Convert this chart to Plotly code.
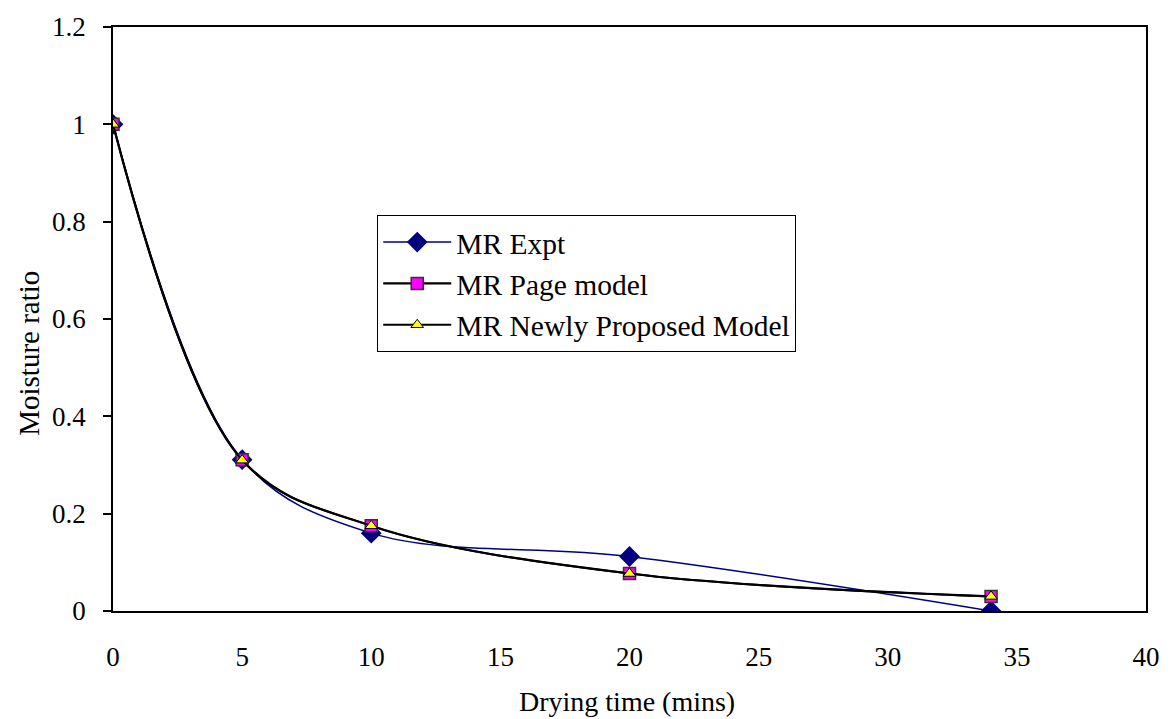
import plotly.graph_objects as go

drying_time = [0, 5, 10, 20, 34]
mr_expt = [1.0, 0.311, 0.160, 0.112, 0.0]
mr_page = [1.0, 0.311, 0.175, 0.077, 0.030]
mr_new = [1.0, 0.310, 0.175, 0.077, 0.030]

y_tickvals = [0, 0.2, 0.4, 0.6, 0.8, 1.0, 1.2]
y_ticktext = ["0", "0.2", "0.4", "0.6", "0.8", "1", "1.2"]
x_tickvals = [0, 5, 10, 15, 20, 25, 30, 35, 40]
x_ticktext = ["0", "5", "10", "15", "20", "25", "30", "35", "40"]

FONT = "Liberation Serif"

fig = go.Figure()
fig.add_trace(go.Scatter(
    x=drying_time, y=mr_expt, name="MR Expt", mode="lines+markers",
    line=dict(color="#000080", width=1.5, shape="spline", smoothing=1),
    marker=dict(symbol="diamond", size=16, color="#000080",
                line=dict(color="#000080", width=0)),
))
fig.add_trace(go.Scatter(
    x=drying_time, y=mr_page, name="MR Page model", mode="lines+markers",
    line=dict(color="#000000", width=2.2, shape="spline", smoothing=1),
    marker=dict(symbol="square", size=12, color="#FF00FF",
                line=dict(color="#333333", width=1.5)),
))
fig.add_trace(go.Scatter(
    x=drying_time, y=mr_new, name="MR Newly Proposed Model", mode="lines+markers",
    line=dict(color="#000000", width=2, shape="spline", smoothing=1),
    marker=dict(symbol="triangle-up", size=11, color="#FFFF00",
                line=dict(color="#000000", width=1)),
))

plot_w = 1172 - 113 - 23
plot_h = 719 - 19 - 108

fig.update_layout(
    width=1172, height=719,
    margin=dict(l=113, r=23, t=19, b=108),
    paper_bgcolor="white", plot_bgcolor="white",
    font=dict(family=FONT, size=27, color="black"),
    showlegend=True,
    legend=dict(
        x=(378 - 113) / plot_w, y=(611 - 210) / plot_h,
        xanchor="left", yanchor="top",
        bgcolor="white", bordercolor="black", borderwidth=1,
        font=dict(family=FONT, size=29.5, color="black"),
        tracegroupgap=0, itemwidth=68,
        entrywidth=355, entrywidthmode="pixels",
    ),
    xaxis=dict(
        range=[0, 40], tickvals=x_tickvals, ticktext=x_ticktext,
        showgrid=False, zeroline=False, showline=True, linecolor="black",
        linewidth=1.5, mirror=True, ticks="", ticklabelstandoff=21,
        tickfont=dict(family=FONT, size=27),
    ),
    yaxis=dict(
        range=[0, 1.2], tickvals=y_tickvals, ticktext=y_ticktext,
        showgrid=False, zeroline=False, showline=True, linecolor="black",
        linewidth=1.5, mirror=True, ticks="outside", ticklen=8,
        tickcolor="black", tickwidth=1.5, ticklabelstandoff=12,
        tickfont=dict(family=FONT, size=27),
    ),
    annotations=[
        dict(text="Drying time (mins)", x=(628 - 113) / plot_w,
             y=(611 - 703) / plot_h, xref="paper", yref="paper",
             xanchor="center", yanchor="middle", showarrow=False,
             font=dict(family=FONT, size=28)),
        dict(text="Moisture ratio", textangle=-90, showarrow=False,
             x=(28 - 113) / plot_w, y=(611 - 350) / plot_h,
             xref="paper", yref="paper", xanchor="center", yanchor="middle",
             font=dict(family=FONT, size=29)),
    ],
)

fig.write_html("out.html")
